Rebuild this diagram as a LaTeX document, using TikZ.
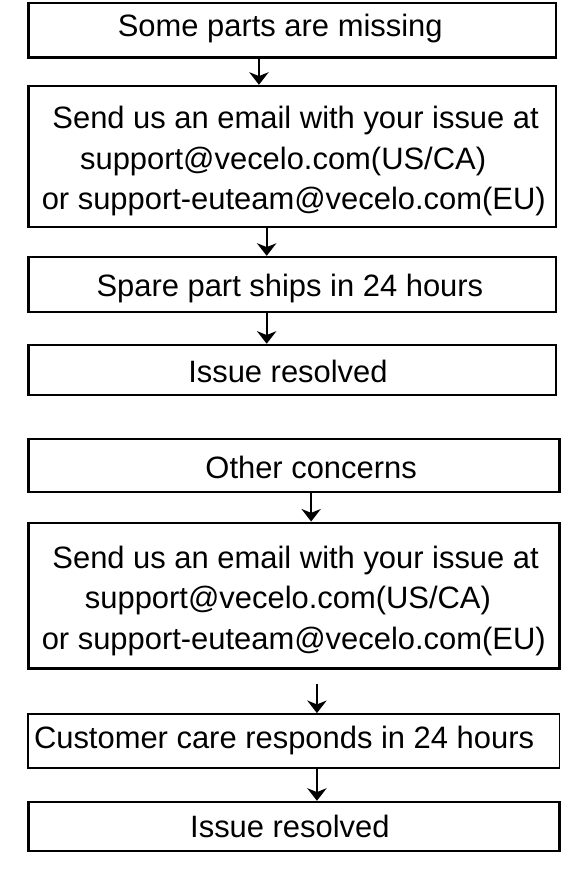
\documentclass[tikz,border=0pt]{standalone}
\usepackage{fontspec}
\setmainfont{Liberation Sans}
\usetikzlibrary{arrows.meta}
\begin{document}
\begin{tikzpicture}[x=1pt,y=-1pt,
  box/.style={draw=black, line width=2.5pt, rectangle, inner sep=0pt},
  upbox/.style={box, minimum width=546pt},
  lowbox/.style={box, minimum width=549.7pt},
  txt/.style={anchor=base, inner sep=0pt, font=\fontsize{32}{38}\selectfont},
  arr/.style={line width=2pt, -{Stealth[length=13pt,width=20pt,inset=4pt]}}]
\useasboundingbox (0,0) rectangle (607.5,909.7);
\fill[white] (0,0) rectangle (607.5,909.7);
% first group
\node[upbox, minimum height=56.3pt] (b1) at (302.7,31.2) {};
\node[upbox, minimum height=146pt] (b2) at (302.7,162) {};
\node[upbox, minimum height=57pt] (b3) at (302.7,294.5) {};
\node[upbox, minimum height=52pt] (b4) at (302.7,383) {};
% second group
\node[lowbox, minimum height=55pt] (b5) at (304.2,481.8) {};
\node[lowbox, minimum height=151pt] (b6) at (304.2,616.5) {};
\node[lowbox, line width=2pt, minimum height=56pt] (b7) at (304.2,767) {};
\node[lowbox, minimum height=51pt] (b8) at (304.2,855.5) {};
% texts
\node[txt] (t1) at (290,38) {Some parts are missing};
\node[txt] (t2a) at (306,133) {Send us an email with your issue at};
\node[txt] (t2b) at (293,175) {support@vecelo.com(US/CA)};
\node[txt] (t2c) at (304,217) {or support-euteam@vecelo.com(EU)};
\node[txt] (t3) at (300,307) {Spare part ships in 24 hours};
\node[txt] (t4) at (298,396) {Issue resolved};
\node[txt] (t5) at (322,495) {Other concerns};
\node[txt] (t6a) at (306,588) {Send us an email with your issue at};
\node[txt] (t6b) at (298,630) {support@vecelo.com(US/CA)};
\node[txt] (t6c) at (304,672) {or support-euteam@vecelo.com(EU)};
\node[txt] (t7) at (294,775) {Customer care responds in 24 hours};
\node[txt] (t8) at (300,867) {Issue resolved};
% arrows
\coordinate (xa) at (268,0);
\coordinate (xb) at (276,0);
\coordinate (xc) at (322,0);
\coordinate (xd) at (328,0);
\coordinate (s5) at (328,708);
\draw[arr] (b1.south -| xa) -- (b2.north -| xa);
\draw[arr] (b2.south -| xb) -- (b3.north -| xb);
\draw[arr] (b3.south -| xb) -- (b4.north -| xb);
\draw[arr] (b5.south -| xc) -- (b6.north -| xc);
\draw[arr] (s5) -- (b7.north -| s5);
\draw[arr] (b7.south -| xd) -- (b8.north -| xd);
\end{tikzpicture}
\end{document}
